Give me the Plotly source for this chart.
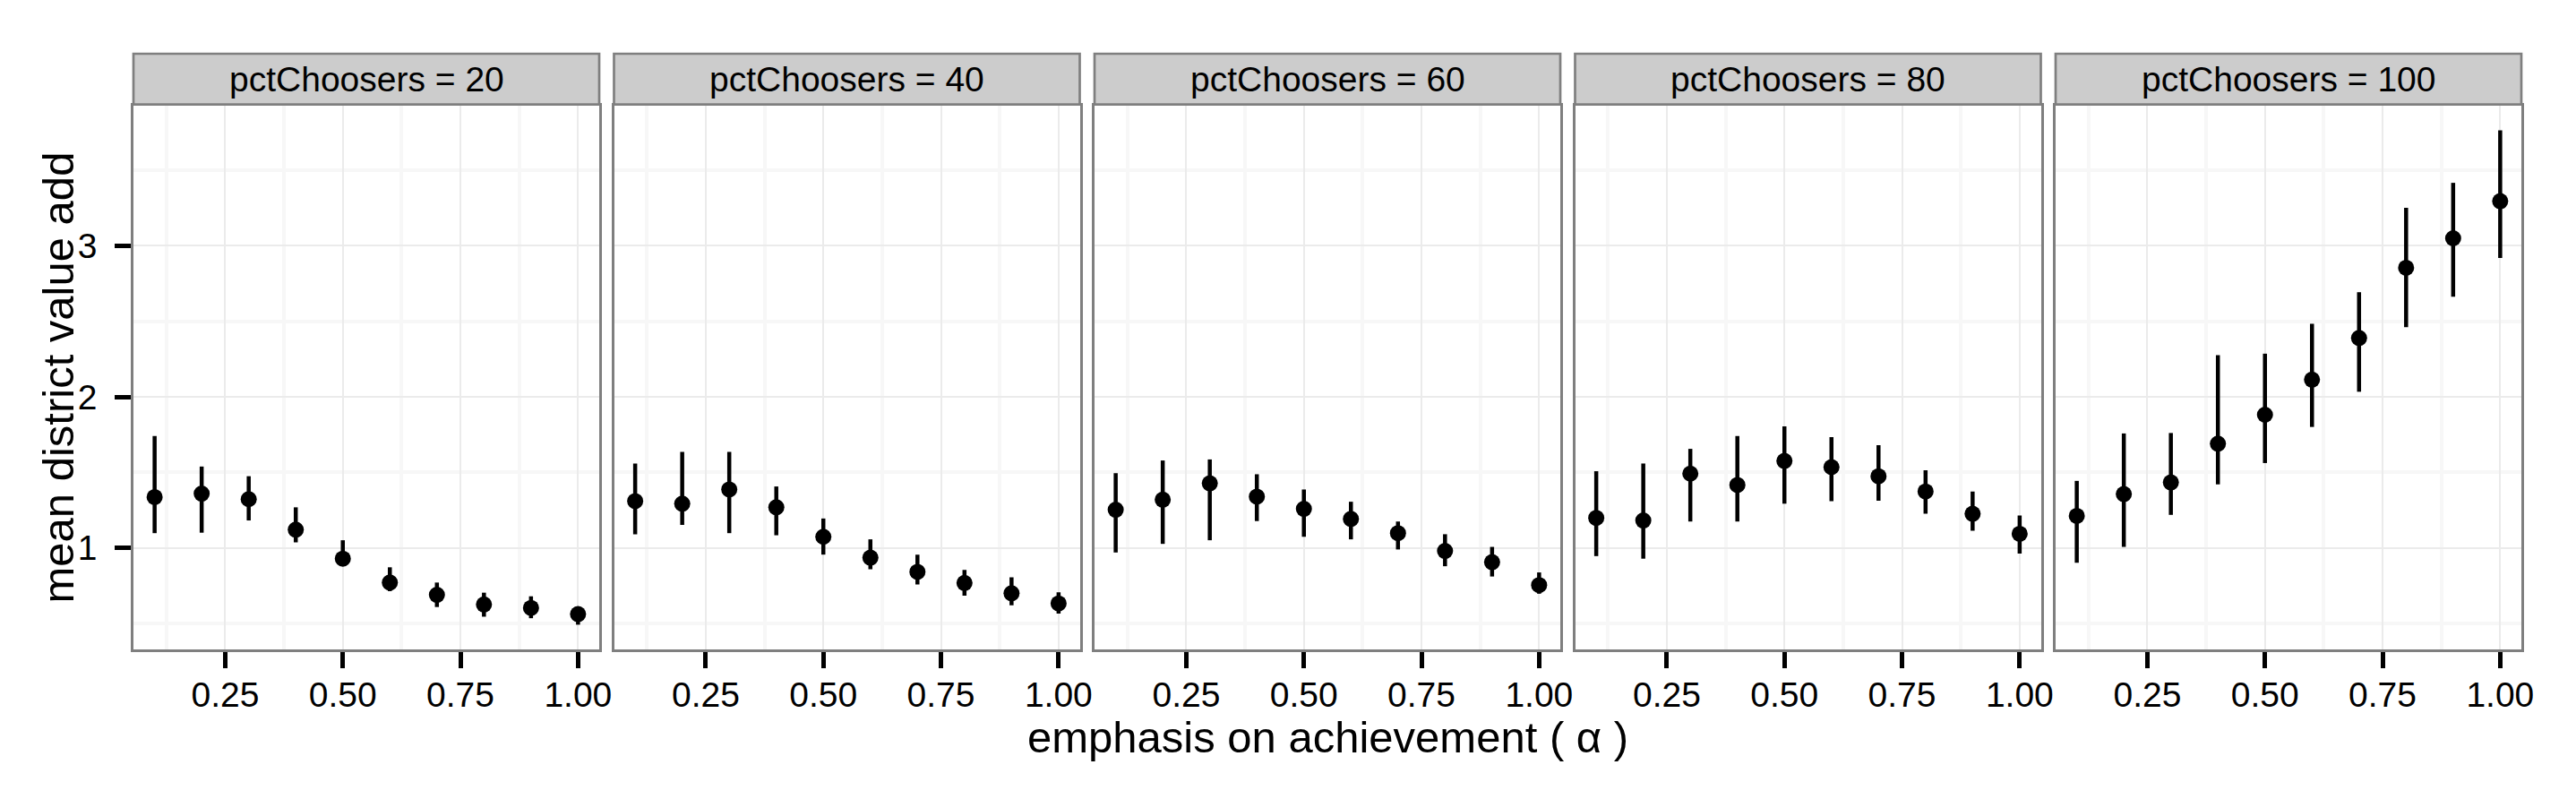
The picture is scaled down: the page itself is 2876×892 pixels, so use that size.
import plotly.graph_objects as go

# ---------------- data ----------------
alpha = [0.1, 0.2, 0.3, 0.4, 0.5, 0.6, 0.7, 0.8, 0.9, 1.0]
pct_choosers = [20, 40, 60, 80, 100]

mean_20 = [1.337, 1.360, 1.323, 1.121, 0.929, 0.771, 0.690, 0.626, 0.603, 0.562]
upper_20 = [1.741, 1.539, 1.475, 1.269, 1.051, 0.872, 0.771, 0.704, 0.680, 0.603]
lower_20 = [1.098, 1.101, 1.182, 1.037, 0.896, 0.714, 0.609, 0.545, 0.535, 0.492]

mean_40 = [1.310, 1.293, 1.387, 1.269, 1.074, 0.936, 0.842, 0.768, 0.700, 0.633]
upper_40 = [1.559, 1.636, 1.636, 1.407, 1.195, 1.057, 0.956, 0.855, 0.805, 0.707]
lower_40 = [1.091, 1.152, 1.098, 1.084, 0.956, 0.859, 0.758, 0.684, 0.620, 0.566]

mean_60 = [1.253, 1.320, 1.428, 1.340, 1.259, 1.192, 1.098, 0.980, 0.906, 0.754]
upper_60 = [1.495, 1.579, 1.586, 1.488, 1.387, 1.306, 1.175, 1.091, 1.007, 0.838]
lower_60 = [0.970, 1.027, 1.051, 1.178, 1.074, 1.057, 0.990, 0.879, 0.811, 0.697]

mean_80 = [1.199, 1.182, 1.492, 1.417, 1.576, 1.535, 1.475, 1.374, 1.226, 1.094]
upper_80 = [1.508, 1.559, 1.656, 1.741, 1.805, 1.734, 1.680, 1.515, 1.374, 1.215]
lower_80 = [0.946, 0.929, 1.175, 1.175, 1.293, 1.310, 1.313, 1.226, 1.114, 0.963]

mean_100 = [1.212, 1.357, 1.434, 1.690, 1.882, 2.114, 2.390, 2.855, 3.050, 3.296]
upper_100 = [1.444, 1.758, 1.761, 2.276, 2.286, 2.484, 2.693, 3.252, 3.417, 3.764]
lower_100 = [0.902, 1.007, 1.219, 1.421, 1.562, 1.801, 2.034, 2.461, 2.663, 2.919]

x_tick_vals = [0.25, 0.50, 0.75, 1.00]
x_tick_text = ["0.25", "0.50", "0.75", "1.00"]
y_tick_vals = [1, 2, 3]
y_tick_text = ["1", "2", "3"]

x_title = "emphasis on achievement ( α )"
y_title = "mean district value add"

series = [
    (mean_20, upper_20, lower_20),
    (mean_40, upper_40, lower_40),
    (mean_60, upper_60, lower_60),
    (mean_80, upper_80, lower_80),
    (mean_100, upper_100, lower_100),
]

# ---------------- layout geometry ----------------
W, H = 2876, 892
ML, MR, MT, MB = 149, 61, 118, 167
plot_w = W - ML - MR
plot_h = H - MT - MB
panel_w = 520
gap = (plot_w - 5 * panel_w) / 4
strip_h = 58

FONT = "Liberation Sans, Arial, Helvetica, sans-serif"
GRID_MAJOR = "#ebebeb"
GRID_MINOR = "#f7f7f7"
BORDER = "#7f7f7f"

# axis ranges (ggplot-style 5% expansion)
all_hi = max(max(u) for _, u, _ in series)
all_lo = min(min(l) for _, _, l in series)
dy = all_hi - all_lo
y_range = [all_lo - 0.05 * dy, all_hi + 0.05 * dy]
dx = max(alpha) - min(alpha)
x_range = [min(alpha) - 0.05 * dx, max(alpha) + 0.05 * dx]

fig = go.Figure()
layout = dict(
    width=W, height=H,
    margin=dict(l=ML, r=MR, t=MT, b=MB, pad=0),
    paper_bgcolor="white", plot_bgcolor="white",
    showlegend=False,
    font=dict(family=FONT, color="black", size=39),
)

shapes = []
annotations = []
for i, (pct, (m, u, l)) in enumerate(zip(pct_choosers, series)):
    idx = "" if i == 0 else str(i + 1)
    x0 = (i * (panel_w + gap)) / plot_w
    x1 = (i * (panel_w + gap) + panel_w) / plot_w
    fig.add_trace(go.Scatter(
        x=alpha, y=m, mode="markers",
        xaxis="x" + idx, yaxis="y" + idx,
        marker=dict(color="black", size=18, line=dict(width=0)),
        error_y=dict(type="data", symmetric=False,
                     array=[uu - mm for uu, mm in zip(u, m)],
                     arrayminus=[mm - ll for mm, ll in zip(m, l)],
                     color="black", thickness=4.5, width=0),
        hoverinfo="skip",
    ))
    layout["xaxis" + idx] = dict(
        domain=[x0, x1], anchor="y" + idx, range=x_range,
        tickvals=x_tick_vals, ticktext=x_tick_text,
        ticks="outside", ticklen=18, tickwidth=4.5, tickcolor="black",
        tickfont=dict(size=39, color="black", family=FONT),
        ticklabelstandoff=-4,
        showgrid=True, gridcolor=GRID_MAJOR, gridwidth=2,
        minor=dict(tickvals=[0.125, 0.375, 0.625, 0.875], showgrid=True,
                   gridcolor=GRID_MINOR, gridwidth=4, ticks=""),
        showline=True, mirror=True, linecolor=BORDER, linewidth=2.7,
        zeroline=False, fixedrange=True,
    )
    ydict = dict(
        domain=[0, 1], anchor="x" + idx, range=y_range,
        tickvals=y_tick_vals, ticktext=y_tick_text,
        showgrid=True, gridcolor=GRID_MAJOR, gridwidth=2,
        minor=dict(tickvals=[0.5, 1.5, 2.5, 3.5], showgrid=True,
                   gridcolor=GRID_MINOR, gridwidth=4, ticks=""),
        showline=True, mirror=True, linecolor=BORDER, linewidth=2.7,
        zeroline=False, fixedrange=True,
    )
    if i == 0:
        ydict.update(ticks="outside", ticklen=18, tickwidth=4.5, tickcolor="black",
                     tickfont=dict(size=39, color="black", family=FONT),
                     ticklabelstandoff=12)
    else:
        ydict.update(showticklabels=False, ticks="", matches="y")
    layout["yaxis" + idx] = ydict

    # strip
    shapes.append(dict(type="rect", xref="paper", yref="paper",
                       x0=x0, x1=x1, y0=1 + 1.3 / plot_h, y1=1 + strip_h / plot_h,
                       fillcolor="#cccccc", line=dict(color=BORDER, width=2.7),
                       layer="above"))
    annotations.append(dict(text=f"pctChoosers = {pct}", xref="paper", yref="paper",
                            x=(x0 + x1) / 2, y=1 + (strip_h / 2) / plot_h,
                            xanchor="center", yanchor="middle", showarrow=False,
                            font=dict(size=39, color="black", family=FONT)))

annotations.append(dict(text=x_title, xref="paper", yref="paper",
                        x=0.5, y=-(823 - (MT + plot_h)) / plot_h,
                        xanchor="center", yanchor="middle", showarrow=False,
                        font=dict(size=49, color="black", family=FONT)))
annotations.append(dict(text=y_title, xref="paper", yref="paper",
                        x=-(ML - 64) / plot_w, y=0.5, textangle=-90,
                        xanchor="center", yanchor="middle", showarrow=False,
                        font=dict(size=49, color="black", family=FONT)))

layout["shapes"] = shapes
layout["annotations"] = annotations
fig.update_layout(**layout)
fig.write_html("out.html")
